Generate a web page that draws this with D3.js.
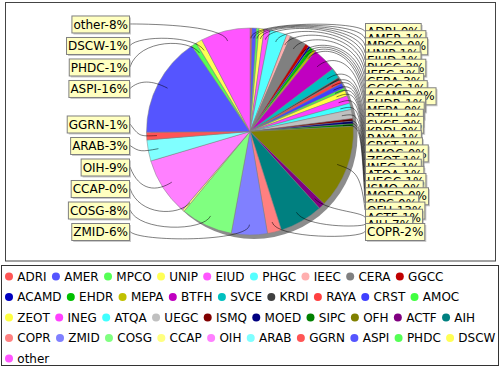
<!DOCTYPE html>
<html>
<head>
<meta charset="utf-8">
<script src="https://cdn.jsdelivr.net/npm/d3@7"></script>
<style>
  body { margin: 0; background: #fff; }
  svg { display: block; font-family: "DejaVu Sans", sans-serif; }
</style>
</head>
<body>
<script>
// slice names, clockwise from 12 o'clock
const categories = ["ADRI", "AMER", "MPCO", "UNIP", "EIUD", "PHGC", "IEEC", "CERA", "GGCC",
  "ACAMD", "EHDR", "MEPA", "BTFH", "SVCE", "KRDI", "RAYA", "CRST", "AMOC",
  "ZEOT", "INEG", "ATQA", "UEGC", "ISMQ", "MOED", "SIPC", "OFH", "ACTF", "AIH",
  "COPR", "ZMID", "COSG", "CCAP", "OIH", "ARAB", "GGRN", "ASPI", "PHDC", "DSCW", "other"];

// share of each slice (percent)
const values = [0.3, 0.7, 0.4, 0.8, 0.9, 2.7, 0.6, 2.6, 0.6,
  0.3, 0.6, 0.4, 3.8, 1.6, 0.4, 0.6, 0.8, 0.4,
  0.9, 1.2, 1.0, 1.4, 0.4, 0.4, 0.4, 13.1, 1.0, 6.8,
  2.2, 5.6, 8.1, 0.3, 9.1, 3.3, 1.2, 15.6, 0.8, 1.0, 7.7];

// default series colours, cycled
const palette = ["#ff5555", "#5555ff", "#55ff55", "#ffff55", "#ff55ff", "#55ffff", "#ffafaf", "#808080",
  "#c00000", "#0000c0", "#00c000", "#c0c000", "#c000c0", "#00c0c0", "#404040",
  "#ff4040", "#4040ff", "#40ff40", "#ffff40", "#ff40ff", "#40ffff", "#c0c0c0",
  "#800000", "#000080", "#008000", "#808000", "#800080", "#008080",
  "#ff8080", "#8080ff", "#80ff80", "#ffff80", "#ff80ff", "#80ffff"];

const width = 500, height = 370;
const cx = 250, cy = 131.5, r = 103.5, linkR = r * 1.07;
const boxH = 17, recH = 21.5;
const leftEdge = 129, rightEdge = 365;

const data = categories.map((c, i) => ({name: c, value: values[i]}));
const total = d3.sum(values);

var color = d3.scaleOrdinal()
    .domain(categories)
    .range(palette);

var svg = d3.select("body").append("svg")
    .attr("width", width)
    .attr("height", height);

// plot frame
svg.append("rect")
    .attr("x", 5.5).attr("y", 2.5)
    .attr("width", 490).attr("height", 258.5)
    .attr("fill", "#fff")
    .attr("stroke", "#444");

var pie = d3.pie()
    .value(d => d.value)
    .sort(null);

var arc = d3.arc()
    .innerRadius(0)
    .outerRadius(r);

var arcs = pie(data);

// shadow
svg.append("circle")
    .attr("cx", cx + 4).attr("cy", cy + 4)
    .attr("r", r)
    .attr("fill", "#8c8c8c");

var g = svg.append("g")
    .attr("transform", "translate(" + cx + "," + cy + ")");

g.selectAll("path")
    .data(arcs)
    .enter().append("path")
    .attr("d", arc)
    .attr("fill", d => color(d.data.name))
    .attr("stroke", "#808080")
    .attr("stroke-width", 0.5);

// measure text
var meas = svg.append("text").attr("font-size", 12).attr("visibility", "hidden");
function textW(s) { meas.text(s); return meas.node().getComputedTextLength(); }

// label records
var recs = arcs.map(d => {
  var mid = (d.startAngle + d.endAngle) / 2;
  return {
    name: d.data.name,
    text: d.data.name + "-" + Math.round(d.data.value / total * 100) + "%",
    mid: mid,
    left: mid > Math.PI,
    base: cy - Math.cos(mid) * linkR
  };
});

function distribute(list) {
  list.sort((a, b) => a.base - b.base);
  var top = cy - linkR, bottom = cy + linkR;
  if (list.length * recH > bottom - top) {
    var step = (bottom - top - recH) / (list.length - 1);
    list.forEach((d, i) => d.y = top + recH / 2 + i * step);
    return;
  }
  list.forEach((d, i) => { d.y = i ? Math.max(d.base, list[i - 1].y + recH) : d.base; });
  var last = list[list.length - 1];
  last.y = Math.min(last.y, bottom - recH / 2);
  for (var i = list.length - 2; i >= 0; i--) list[i].y = Math.min(list[i].y, list[i + 1].y - recH);
}

var leftRecs = recs.filter(d => d.left), rightRecs = recs.filter(d => !d.left);
distribute(leftRecs);
distribute(rightRecs);

var labels = svg.append("g");

function drawLabel(d) {
  var w = textW(d.text) + 3;
  var x0 = d.left ? leftEdge - w : rightEdge;
  var tx = d.left ? leftEdge + 1 : rightEdge;
  var anchorX = d.left ? cx - linkR : cx + linkR;
  var elbowX = cx + Math.sin(d.mid) * linkR, elbowY = cy - Math.cos(d.mid) * linkR;
  var linkX = cx + Math.sin(d.mid) * r * 0.9, linkY = cy - Math.cos(d.mid) * r * 0.9;
  var p = d3.path();
  p.moveTo(tx, d.y);
  p.bezierCurveTo(anchorX, elbowY, elbowX, elbowY, linkX, linkY);
  labels.append("path")
      .attr("d", p.toString())
      .attr("fill", "none")
      .attr("stroke", "#000")
      .attr("stroke-width", 0.5);
  labels.append("rect")
      .attr("x", x0 + 2).attr("y", d.y - boxH / 2 + 2)
      .attr("width", w).attr("height", boxH)
      .attr("fill", "rgba(151,151,151,0.5)");
  labels.append("rect")
      .attr("x", x0 + 0.5).attr("y", d.y - boxH / 2 + 0.5)
      .attr("width", w).attr("height", boxH)
      .attr("fill", "#ffffc0")
      .attr("stroke", "#808080");
  labels.append("text")
      .attr("x", x0 + 2).attr("y", d.y + 4.6)
      .attr("font-size", 12)
      .attr("fill", "#000")
      .text(d.text);
}
leftRecs.forEach(drawLabel);
rightRecs.forEach(drawLabel);

// legend
svg.append("rect")
    .attr("x", 1.5).attr("y", 265.5)
    .attr("width", 497).attr("height", 100)
    .attr("fill", "#fff")
    .attr("stroke", "#333");

var legend = svg.append("g");
var lx = 9, row = 0;
categories.forEach(c => {
  var w = textW(c);
  if (lx + 8.3 + w > 500) { lx = 9; row++; }
  var y = 276.5 + row * 20.5;
  legend.append("circle")
      .attr("cx", lx).attr("cy", y)
      .attr("r", 4)
      .attr("fill", color(c));
  legend.append("text")
      .attr("x", lx + 8.3).attr("y", y + 4.4)
      .attr("font-size", 12)
      .attr("fill", "#000")
      .text(c);
  lx += 8.3 + w + 9.3;
});
meas.remove();
</script>
</body>
</html>
